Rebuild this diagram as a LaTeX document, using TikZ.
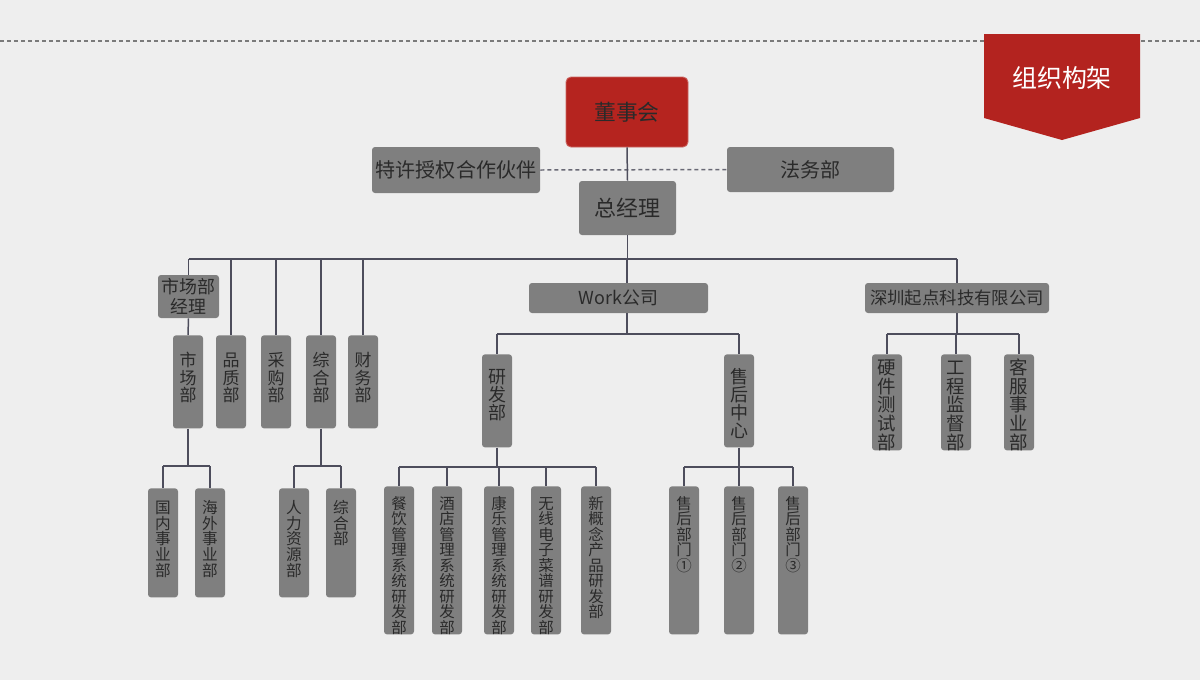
\documentclass[tikz,border=0pt]{standalone}
\usepackage{fontspec}
\setmainfont{Noto Sans CJK SC}
\newlength\PX \setlength\PX{0.02cm}
\definecolor{bgc}{HTML}{EEEEEE}
\definecolor{boxgray}{HTML}{7F7F7F}
\definecolor{redbox}{HTML}{B5241F}
\definecolor{banner}{HTML}{B3231F}
\definecolor{txt}{HTML}{2A2A2A}
\definecolor{linec}{HTML}{4D4D5C}
\definecolor{dashc}{HTML}{7A7A7A}
\tikzset{
  gbox/.style={fill=boxgray, rounded corners=3\PX, inner sep=0pt, text=txt, align=center},
  rbox/.style={fill=redbox, draw=redbox!70!white, line width=0.5pt, rounded corners=5\PX, inner sep=0pt, text=txt},
  conn/.style={draw=linec, line width=0.85pt},
  dashconn/.style={draw=linec!85!white, line width=0.85pt, dash pattern=on 4\PX off 3\PX},
  topdash/.style={draw=dashc, line width=0.6pt, dash pattern=on 4\PX off 3\PX},
}
\newcommand\HB[7]{%
  \pgfmathsetlengthmacro\bw{(#4-#2)*0.02cm}%
  \pgfmathsetlengthmacro\bh{(#5-#3)*0.02cm}%
  \node[gbox, minimum width=\bw, minimum height=\bh, font=\fontsize{#6}{#6}\selectfont] (#1) at ({(#2+#4)/2},{(#3+#5)/2}) {#7};}
\newcommand\VB[8]{%
  \pgfmathsetlengthmacro\bth{#5*0.02cm}%
  \pgfmathsetlengthmacro\btd{(#4-#3-#5)*0.02cm}%
  \node[gbox, anchor=north, text width=30\PX, text height=\bth, text depth=\btd, font=\fontsize{#6}{#7}\selectfont] (#1) at (#2,#3) {#8};}
\newcommand\Bus[5]{%
  \draw[conn] (#1.south) -- (#1.south |- 0,#2);
  \draw[conn] (#3.north |- 0,#2) -- (#4.north |- 0,#2);
  \foreach \c in {#5} {\draw[conn] (\c.north |- 0,#2) -- (\c.north);}}
\begin{document}
\begin{tikzpicture}[x=0.02cm,y=-0.02cm]
\fill[bgc] (0,0) rectangle (1200,680);
\useasboundingbox (0,0) rectangle (1200,680);
% top dashed rule and banner
\coordinate (tl) at (0,41);
\coordinate (tr) at (1200,41);
\draw[topdash] (tl) -- (tr);
\fill[banner] (984,34) -- (1140,34) -- (1140,118) -- (1062,140) -- (984,118) -- cycle;
\node[text=white, font=\fontsize{14.2pt}{14.2pt}\selectfont] (title) at (1062,78) {组织构架};
% top level
\node[rbox, minimum width=122\PX, minimum height=70\PX, font=\fontsize{12.4pt}{12.4pt}\selectfont] (dsh) at (627,112) {董事会};
\HB{tx}{372}{147}{540}{193}{11.4pt}{特许授权合作伙伴}
\HB{fw}{727}{147}{894}{192}{11.4pt}{法务部}
\HB{zjl}{579}{181}{676}{235}{12.5pt}{总经理}
\HB{scjl}{158}{275}{219}{318}{10.2pt}{市场部\\[1.2pt]经理}
\HB{work}{529}{283}{708}{313}{10.2pt}{Work公司}
\HB{szqd}{865}{283}{1049}{313}{9.9pt}{深圳起点科技有限公司}
% group A
\VB{sc}{188}{335}{428}{31.5}{9.67pt}{9.96pt}{市\\场\\部}
\VB{pz}{231}{335}{428}{31.5}{9.67pt}{9.96pt}{品\\质\\部}
\VB{cg}{276}{335}{428}{31.5}{9.67pt}{9.96pt}{采\\购\\部}
\VB{zh}{321}{335}{428}{31.5}{9.67pt}{9.96pt}{综\\合\\部}
\VB{cw}{363}{335}{428}{31.5}{9.67pt}{9.96pt}{财\\务\\部}
% group B
\VB{gn}{163}{488}{597}{25}{8.9pt}{9.0pt}{国\\内\\事\\业\\部}
\VB{hw}{210}{488}{597}{25}{8.9pt}{9.0pt}{海\\外\\事\\业\\部}
\VB{rl}{294}{488}{597}{25}{8.9pt}{9.0pt}{人\\力\\资\\源\\部}
\VB{zhb}{341}{488}{597}{25}{8.9pt}{9.0pt}{综\\合\\部}
% group C
\VB{yf}{497}{354}{447}{29}{10.24pt}{10.24pt}{研\\发\\部}
\VB{sh}{739}{354}{447}{29}{10.24pt}{10.24pt}{售\\后\\中\\心}
% group D
\VB{cy}{399}{486}{634}{23}{8.8pt}{8.8pt}{餐\\饮\\管\\理\\系\\统\\研\\发\\部}
\VB{jd}{447}{486}{634}{23}{8.8pt}{8.8pt}{酒\\店\\管\\理\\系\\统\\研\\发\\部}
\VB{kl}{499}{486}{634}{23}{8.8pt}{8.8pt}{康\\乐\\管\\理\\系\\统\\研\\发\\部}
\VB{wx}{546}{486}{634}{23}{8.8pt}{8.8pt}{无\\线\\电\\子\\菜\\谱\\研\\发\\部}
\VB{xgn}{596}{486}{634}{23}{8.8pt}{8.8pt}{新\\概\\念\\产\\品\\研\\发\\部}
\VB{sa}{684}{486}{634}{23}{8.8pt}{8.8pt}{售\\后\\部\\门\\①}
\VB{sb}{739}{486}{634}{23}{8.8pt}{8.8pt}{售\\后\\部\\门\\②}
\VB{sd}{793}{486}{634}{23}{8.8pt}{8.8pt}{售\\后\\部\\门\\③}
% group E
\VB{yj}{887}{354}{450}{20}{10.5pt}{10.67pt}{硬\\件\\测\\试\\部}
\VB{gc}{956}{354}{450}{20}{10.5pt}{10.67pt}{工\\程\\监\\督\\部}
\VB{kf}{1019}{354}{450}{20}{10.5pt}{10.67pt}{客\\服\\事\\业\\部}
% connectors
\draw[dashconn] (tx.east) -- (fw.west);
\draw[conn] (dsh.south) -- (zjl.north);
\Bus{zjl}{259}{scjl}{szqd}{scjl,pz,cg,zh,cw,szqd}
\coordinate (wk) at (627,0);
\draw[conn] (wk |- 0,259) -- (wk |- work.north);
\draw[conn] (scjl.south) -- (sc.north);
\Bus{sc}{466}{gn}{hw}{gn,hw}
\Bus{zh}{466}{rl}{zhb}{rl,zhb}
\draw[conn] (wk |- work.south) -- (wk |- 0,334);
\draw[conn] (yf.north |- 0,334) -- (sh.north |- 0,334);
\foreach \c in {yf,sh} {\draw[conn] (\c.north |- 0,334) -- (\c.north);}
\Bus{yf}{467}{cy}{xgn}{cy,jd,kl,wx,xgn}
\Bus{sh}{467}{sa}{sd}{sa,sb,sd}
\Bus{szqd}{334}{yj}{kf}{yj,gc,kf}
\end{tikzpicture}
\end{document}
